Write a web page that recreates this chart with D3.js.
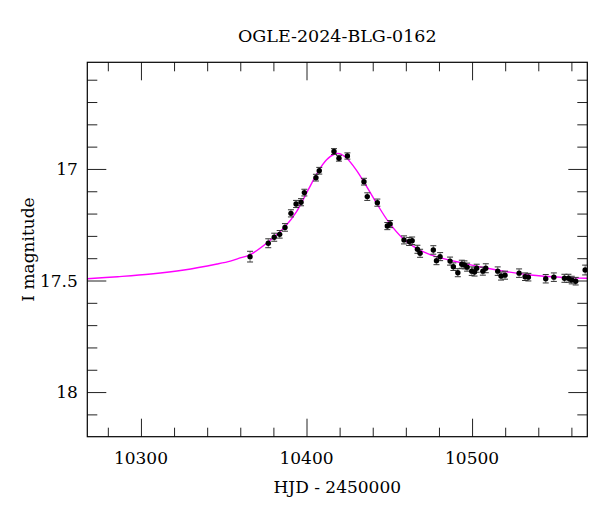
<!DOCTYPE html>
<html lang="en">
<head>
    <meta charset="UTF-8">
    <title>OGLE-2024-BLG-0162</title>
    <script src="https://d3js.org/d3.v7.min.js"></script>
    <style>
        body {
            margin: 0;
            background: #fff;
        }
        text {
            font-family: "DejaVu Serif", serif;
            fill: #000;
        }
    </style>
</head>
<body>
    <div id="chart"></div>
    <script>
        // photometry (HJD - 2450000, I mag, error)
        const hjd = [
            10365.9, 10376.9, 10380.5, 10383.8, 10387.0, 10390.6, 10393.7, 10396.7, 10398.7, 10405.7,
            10407.7, 10416.6, 10419.6, 10424.7, 10434.7, 10436.7, 10442.8, 10448.8, 10450.5, 10458.9,
            10462.0, 10463.8, 10467.0, 10468.6, 10476.6, 10478.5, 10480.7, 10486.7, 10488.7, 10491.4,
            10493.8, 10495.4, 10497.0, 10499.8, 10501.5, 10502.8, 10506.5, 10508.3, 10515.5, 10517.5,
            10519.9, 10528.4, 10532.0, 10534.0, 10544.5, 10549.4, 10555.8, 10558.2, 10560.2, 10562.6,
            10568.3
        ];
        const mag = [
            17.393, 17.333, 17.306, 17.293, 17.262, 17.199, 17.157, 17.149, 17.106, 17.039,
            17.008, 16.922, 16.952, 16.942, 17.057, 17.124, 17.151, 17.256, 17.247, 17.318,
            17.325, 17.322, 17.360, 17.378, 17.363, 17.411, 17.393, 17.413, 17.438, 17.465,
            17.427, 17.430, 17.440, 17.458, 17.462, 17.445, 17.458, 17.445, 17.458, 17.480,
            17.476, 17.467, 17.483, 17.485, 17.492, 17.485, 17.490, 17.490, 17.498, 17.503,
            17.453
        ];
        const magErr = [
            0.024, 0.020, 0.018, 0.017, 0.017, 0.016, 0.016, 0.016, 0.015, 0.015,
            0.015, 0.013, 0.013, 0.014, 0.015, 0.017, 0.016, 0.016, 0.016, 0.018,
            0.018, 0.017, 0.018, 0.018, 0.019, 0.018, 0.018, 0.018, 0.017, 0.018,
            0.018, 0.018, 0.018, 0.019, 0.018, 0.018, 0.018, 0.020, 0.019, 0.018,
            0.018, 0.019, 0.017, 0.017, 0.019, 0.019, 0.018, 0.018, 0.017, 0.017,
            0.022
        ];

        // model curve
        const modelHjd = [
            10267.6, 10286, 10306, 10326, 10346, 10354, 10359, 10366, 10377, 10387,
            10394, 10401, 10407, 10412, 10417, 10420, 10424, 10430, 10436, 10442,
            10450, 10458, 10466, 10475, 10495, 10515, 10535, 10555, 10569.6
        ];
        const modelMag = [
            17.492, 17.483, 17.471, 17.453, 17.426, 17.413, 17.401, 17.384, 17.326, 17.259,
            17.191, 17.094, 17.012, 16.960, 16.933, 16.931, 16.950, 17.004, 17.075, 17.150,
            17.242, 17.310, 17.354, 17.385, 17.423, 17.453, 17.475, 17.486, 17.490
        ];

        const xMajor = [10300, 10400, 10500];
        const yMajor = [17, 17.5, 18];

        const W = 600, H = 512;
        const margin = {top: 62.3, right: 12.7, bottom: 75.3, left: 87.3};
        const width = W - margin.left - margin.right,
              height = H - margin.top - margin.bottom;

        const svg = d3.select("#chart")
                      .append("svg")
                      .attr("width", W)
                      .attr("height", H);

        const g = svg.append("g")
                     .attr("transform", `translate(${margin.left},${margin.top})`);

        const x = d3.scaleLinear()
                    .domain([10267.6, 10569.6])
                    .range([0, width]);

        // magnitudes: brighter at the top
        const y = d3.scaleLinear()
                    .domain([16.522, 18.2])
                    .range([0, height]);

        const xMinor = d3.range(10280, 10569, 20).filter(v => !xMajor.includes(v));
        const yMinor = d3.range(16.6, 18.2, 0.1).map(v => +v.toFixed(1)).filter(v => !yMajor.includes(v));

        // inward ticks on all four sides
        const ax = (axis, t, len) => axis.tickValues(t).tickSize(-len).tickFormat("").tickSizeOuter(0);

        g.append("g").attr("class", "tick-minor")
            .attr("transform", `translate(0,${height})`)
            .call(ax(d3.axisBottom(x), xMinor, 9));
        g.append("g").attr("class", "tick-major")
            .attr("transform", `translate(0,${height})`)
            .call(ax(d3.axisBottom(x), xMajor, 18));
        g.append("g").call(ax(d3.axisTop(x), xMinor, 9));
        g.append("g").call(ax(d3.axisTop(x), xMajor, 18));

        g.append("g").call(ax(d3.axisLeft(y), yMinor, 10));
        g.append("g").call(ax(d3.axisLeft(y), yMajor, 19));
        g.append("g").attr("transform", `translate(${width},0)`)
            .call(ax(d3.axisRight(y), yMinor, 10));
        g.append("g").attr("transform", `translate(${width},0)`)
            .call(ax(d3.axisRight(y), yMajor, 19));

        g.selectAll(".domain").remove();
        g.selectAll(".tick line").attr("stroke", "#222").attr("stroke-width", 1);

        // tick labels
        g.append("g").selectAll("text")
            .data(xMajor)
            .enter().append("text")
            .attr("x", d => x(d))
            .attr("y", height + 27)
            .attr("text-anchor", "middle")
            .style("font-size", "17px")
            .text(d => d);

        g.append("g").selectAll("text")
            .data(yMajor)
            .enter().append("text")
            .attr("x", -9.5)
            .attr("y", d => y(d))
            .attr("dy", "0.36em")
            .attr("text-anchor", "end")
            .style("font-size", "17px")
            .text(d => d);

        // plot area clip
        g.append("clipPath").attr("id", "clip")
            .append("rect").attr("width", width).attr("height", height);

        const plot = g.append("g").attr("clip-path", "url(#clip)");

        const model = modelHjd.map((d, i) => [d, modelMag[i]]);
        plot.append("path")
            .datum(model)
            .attr("fill", "none")
            .attr("stroke", "#ff00ff")
            .attr("stroke-width", 1.4)
            .attr("d", d3.line()
                .x(d => x(d[0]))
                .y(d => y(d[1]))
                .curve(d3.curveCatmullRom.alpha(0.5)));

        const pts = hjd.map((d, i) => ({t: d, m: mag[i], e: magErr[i]}));

        const bars = plot.append("g").selectAll("g")
            .data(pts)
            .enter().append("g");

        bars.append("line")
            .attr("x1", d => x(d.t)).attr("x2", d => x(d.t))
            .attr("y1", d => y(d.m - d.e)).attr("y2", d => y(d.m + d.e))
            .attr("stroke", "#777").attr("stroke-width", 1);
        bars.append("line")
            .attr("x1", d => x(d.t) - 3).attr("x2", d => x(d.t) + 3)
            .attr("y1", d => y(d.m - d.e)).attr("y2", d => y(d.m - d.e))
            .attr("stroke", "#333").attr("stroke-width", 1);
        bars.append("line")
            .attr("x1", d => x(d.t) - 3).attr("x2", d => x(d.t) + 3)
            .attr("y1", d => y(d.m + d.e)).attr("y2", d => y(d.m + d.e))
            .attr("stroke", "#333").attr("stroke-width", 1);

        plot.append("g").selectAll("circle")
            .data(pts)
            .enter().append("circle")
            .attr("cx", d => x(d.t))
            .attr("cy", d => y(d.m))
            .attr("r", 2.7)
            .attr("fill", "#000");

        // frame
        g.append("rect")
            .attr("width", width)
            .attr("height", height)
            .attr("fill", "none")
            .attr("stroke", "#000")
            .attr("stroke-width", 1.2);

        // titles
        svg.append("text")
            .attr("x", margin.left + width / 2)
            .attr("y", 42.3)
            .attr("text-anchor", "middle")
            .style("font-size", "17.5px")
            .text("OGLE-2024-BLG-0162");

        svg.append("text")
            .attr("x", margin.left + width / 2)
            .attr("y", 493)
            .attr("text-anchor", "middle")
            .style("font-size", "17px")
            .text("HJD - 2450000");

        svg.append("text")
            .attr("transform", `translate(33.5,${margin.top + height / 2}) rotate(-90)`)
            .attr("text-anchor", "middle")
            .style("font-size", "17px")
            .text("I magnitude");
    </script>
</body>
</html>
